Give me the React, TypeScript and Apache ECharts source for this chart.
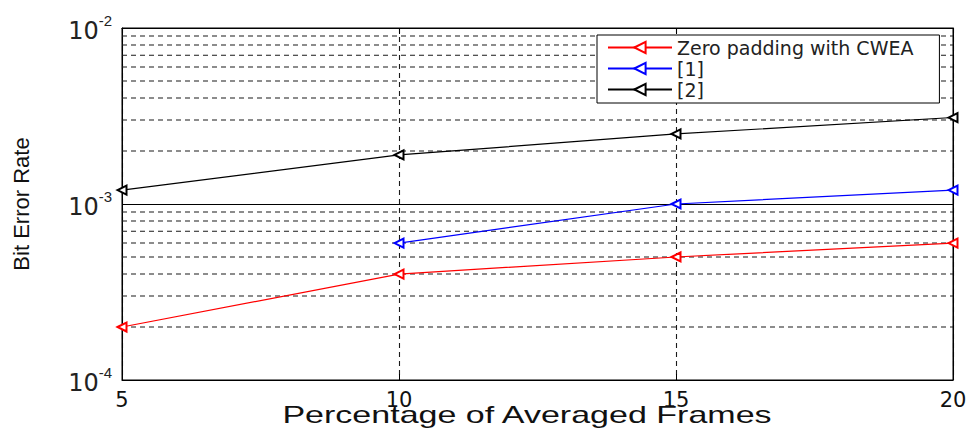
import React, { useEffect, useRef } from "react";
import * as echarts from "echarts";

const xValues = [5, 10, 15, 20];
const seriesNames = ["Zero padding with CWEA", "[1]", "[2]"];
const zeroPadding: (number | null)[] = [2e-4, 4e-4, 5e-4, 6e-4];
const ref1: (number | null)[] = [null, 6e-4, 1e-3, 1.2e-3];
const ref2: (number | null)[] = [1.2e-3, 1.9e-3, 2.5e-3, 3.1e-3];
const seriesColors = ["#ff0000", "#0000ff", "#000000"];
const minorGridValues = [
  2e-4, 3e-4, 4e-4, 5e-4, 6e-4, 7e-4, 8e-4, 9e-4,
  2e-3, 3e-3, 4e-3, 5e-3, 6e-3, 7e-3, 8e-3, 9e-3,
];
const xTitle = "Percentage of Averaged Frames";
const yTitle = "Bit Error Rate";

export default function App() {
  const ref = useRef<HTMLDivElement>(null);
  useEffect(() => {
    if (!ref.current) return;
    document.body.style.margin = "0";
    const chart = echarts.init(ref.current, undefined, { renderer: "svg" });
    const font = "'Liberation Sans', Arial, sans-serif";
    const wide = "'DejaVu Sans', sans-serif";
    const datas = [zeroPadding, ref1, ref2];
    const gridSeries: any[] = minorGridValues.map((v) => ({
      type: "line",
      data: [
        [xValues[0], v],
        [xValues[xValues.length - 1], v],
      ],
      symbol: "none",
      silent: true,
      lineStyle: { color: "#1a1a1a", type: [5, 4], width: 1.1 },
      emphasis: { disabled: true },
      z: 1,
    }));
    const series: any[] = datas.map((d, i) => ({
      name: seriesNames[i],
      type: "line",
      data: xValues.map((x, j) => (d[j] == null ? null : [x, d[j]])),
      symbol: "emptyTriangle",
      symbolRotate: 90,
      symbolSize: 9,
      showAllSymbol: true,
      lineStyle: { color: seriesColors[i], width: 1.2 },
      itemStyle: { color: seriesColors[i], borderColor: seriesColors[i], borderWidth: 1.5 },
      z: 5,
    }));
    chart.setOption({
      animation: false,
      backgroundColor: "#fff",
      grid: {
        left: 122,
        right: 20,
        top: 28,
        bottom: 55,
        show: true,
        borderColor: "#000",
        borderWidth: 1,
        backgroundColor: "transparent",
      },
      legend: {
        data: seriesNames,
        orient: "vertical",
        left: 597,
        top: 35,
        backgroundColor: "#fff",
        borderColor: "#000",
        borderWidth: 1,
        padding: [3, 26, 4, 10],
        itemGap: 2,
        itemWidth: 64,
        itemHeight: 14,
        textStyle: { fontFamily: wide, fontSize: 19, color: "#222" },
        z: 10,
      },
      graphic: [
        {
          type: "text",
          x: 527,
          y: 415,
          scaleX: 1.48,
          style: {
            text: xTitle,
            fontFamily: font,
            fontSize: 23,
            fill: "#111",
            textAlign: "center",
            textVerticalAlign: "middle",
          },
        },
      ],
      xAxis: [
        {
          type: "value",
          min: 5,
          max: 20,
          interval: 5,
          axisLine: { lineStyle: { color: "#000" } },
          axisTick: { inside: true, length: 6, lineStyle: { color: "#000" } },
          axisLabel: { fontFamily: wide, fontSize: 21, color: "#111", margin: 9 },
          splitLine: { show: true, lineStyle: { color: "#1a1a1a", type: [5, 4], width: 1.1 } },
        },
        {
          type: "value",
          position: "top",
          min: 5,
          max: 20,
          interval: 5,
          axisLine: { lineStyle: { color: "#000" } },
          axisTick: { inside: true, length: 6, lineStyle: { color: "#000" } },
          axisLabel: { show: false },
          splitLine: { show: false },
        },
      ],
      yAxis: [
        {
          type: "log",
          logBase: 10,
          min: 1e-4,
          max: 1e-2,
          name: yTitle,
          nameLocation: "middle",
          nameGap: 90,
          nameTextStyle: { fontFamily: font, fontSize: 22, color: "#111" },
          axisLine: { lineStyle: { color: "#000" } },
          axisTick: { inside: true, length: 6, lineStyle: { color: "#000" } },
          axisLabel: {
            margin: 10,
            formatter: (v: number) => `{b|10}{s|${Math.round(Math.log10(v))}}`,
            rich: {
              b: { fontFamily: wide, fontSize: 24, color: "#222", verticalAlign: "bottom", lineHeight: 30 },
              s: { fontFamily: font, fontSize: 15, color: "#222", verticalAlign: "top", lineHeight: 30 },
            },
          },
          splitLine: { show: true, lineStyle: { color: "#000", type: "solid" } },
        },
        {
          type: "log",
          logBase: 10,
          min: 1e-4,
          max: 1e-2,
          position: "right",
          axisLine: { lineStyle: { color: "#000" } },
          axisTick: { inside: true, length: 6, lineStyle: { color: "#000" } },
          axisLabel: { show: false },
          splitLine: { show: false },
        },
      ],
      series: [...gridSeries, ...series],
    });
    return () => chart.dispose();
  }, []);
  return <div ref={ref} style={{ width: 973, height: 435 }} />;
}
